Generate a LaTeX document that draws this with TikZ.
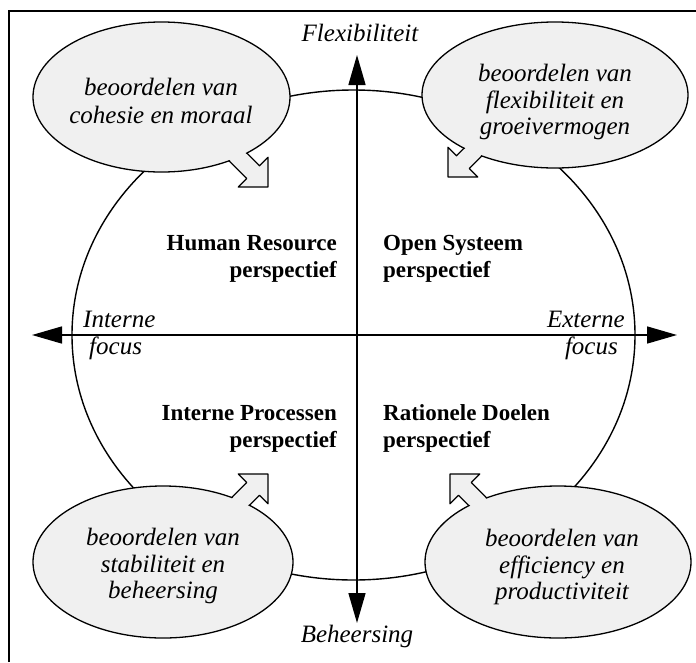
\documentclass[tikz,border=0pt]{standalone}
\usepackage{fontspec}
\setmainfont{Liberation Serif}
\usetikzlibrary{arrows.meta,shapes.geometric}
\definecolor{bubblegray}{RGB}{240,240,240}
\newcommand\bubarrow[3]{%
  \begin{scope}[shift={(#1,#2)},rotate=#3]
    \draw[bubbleline] (0,0) -- (-21,21) -- (-21,9) -- (-62,9) -- (-62,-9) -- (-21,-9) -- (-21,-21) -- cycle;
  \end{scope}}
\newcommand\bubcover[3]{%
  \begin{scope}[shift={(#1,#2)},rotate=#3]
    \fill[bubblegray] (-23,-8) rectangle (-56,8);
  \end{scope}}
\begin{document}
\begin{tikzpicture}[x=1pt,y=-1pt,
  bubbleline/.style={draw=black, line width=1.3pt, fill=bubblegray, line join=round},
  bubble/.style={bubbleline, ellipse, inner sep=0pt},
  ittext/.style={font=\fontsize{25}{26.5}\selectfont\itshape, inner sep=0pt},
  bftext/.style={font=\fontsize{23}{27}\selectfont\bfseries, inner sep=0pt},
  axisline/.style={line width=1.5pt, {Triangle[length=30pt,width=17pt]}-{Triangle[length=30pt,width=17pt]}},
]
\useasboundingbox (0,0) rectangle (696,662);
% frame
\draw[line width=2pt] (9,662) -- (9,11) -- (696,11);
% main ellipse
\draw[line width=1.4pt] (353.5,335) ellipse [x radius=281.5pt, y radius=245pt];
% axes
\coordinate (L) at (32,335);
\coordinate (R) at (677,335);
\coordinate (T) at (357,55);
\coordinate (B) at (357,623);
\draw[axisline] (L) -- (R);
\draw[axisline] (B) -- (T);
% block arrows
\bubarrow{268}{187}{-45}
\bubarrow{448}{177}{-135}
\bubarrow{268}{474}{45}
\bubarrow{450}{474}{135}
% bubbles
\node[bubble, minimum width=257pt, minimum height=150pt] (tl) at (161.5,97) {};
\node[bubble, minimum width=266pt, minimum height=146pt] (tr) at (555,95) {};
\node[bubble, minimum width=260pt, minimum height=152pt] (bl) at (163,562) {};
\node[bubble, minimum width=266pt, minimum height=152pt] (br) at (558,562) {};
\bubcover{268}{187}{-45}
\bubcover{448}{177}{-135}
\bubcover{268}{474}{45}
\bubcover{450}{474}{135}
% bubble texts
\node[ittext, align=center, font=\fontsize{25}{28}\selectfont\itshape] (tlt) at (161,101) {beoordelen van\\cohesie en moraal};
\node[ittext, align=center] (trt) at (555,102) {beoordelen van\\flexibiliteit en\\groeivermogen};
\node[ittext, align=center] (blt) at (163,566) {beoordelen van\\stabiliteit en\\beheersing};
\node[ittext, align=center] (brt) at (562,567) {beoordelen van\\efficiency en\\productiviteit};
% axis labels
\node[ittext] (flex) at (360,33) {Flexibiliteit};
\node[ittext] (beh) at (357,636) {Beheersing};
\node[ittext, anchor=base west] (int1) at (83,327) {Interne};
\node[ittext, anchor=base west] (int2) at (89,354) {focus};
\node[ittext, anchor=base east] (ext1) at (625,327) {Externe};
\node[ittext, anchor=base east] (ext2) at (618,354) {focus};
% quadrant labels
\node[bftext, anchor=base east] (hr1) at (337,250) {Human Resource};
\node[bftext, anchor=base east] (hr2) at (337,277) {perspectief};
\node[bftext, anchor=base west] (os1) at (383,250) {Open Systeem};
\node[bftext, anchor=base west] (os2) at (383,277) {perspectief};
\node[bftext, anchor=base east] (ip1) at (337,420) {Interne Processen};
\node[bftext, anchor=base east] (ip2) at (337,447) {perspectief};
\node[bftext, anchor=base west] (rd1) at (383,420) {Rationele Doelen};
\node[bftext, anchor=base west] (rd2) at (383,447) {perspectief};
\end{tikzpicture}
\end{document}
